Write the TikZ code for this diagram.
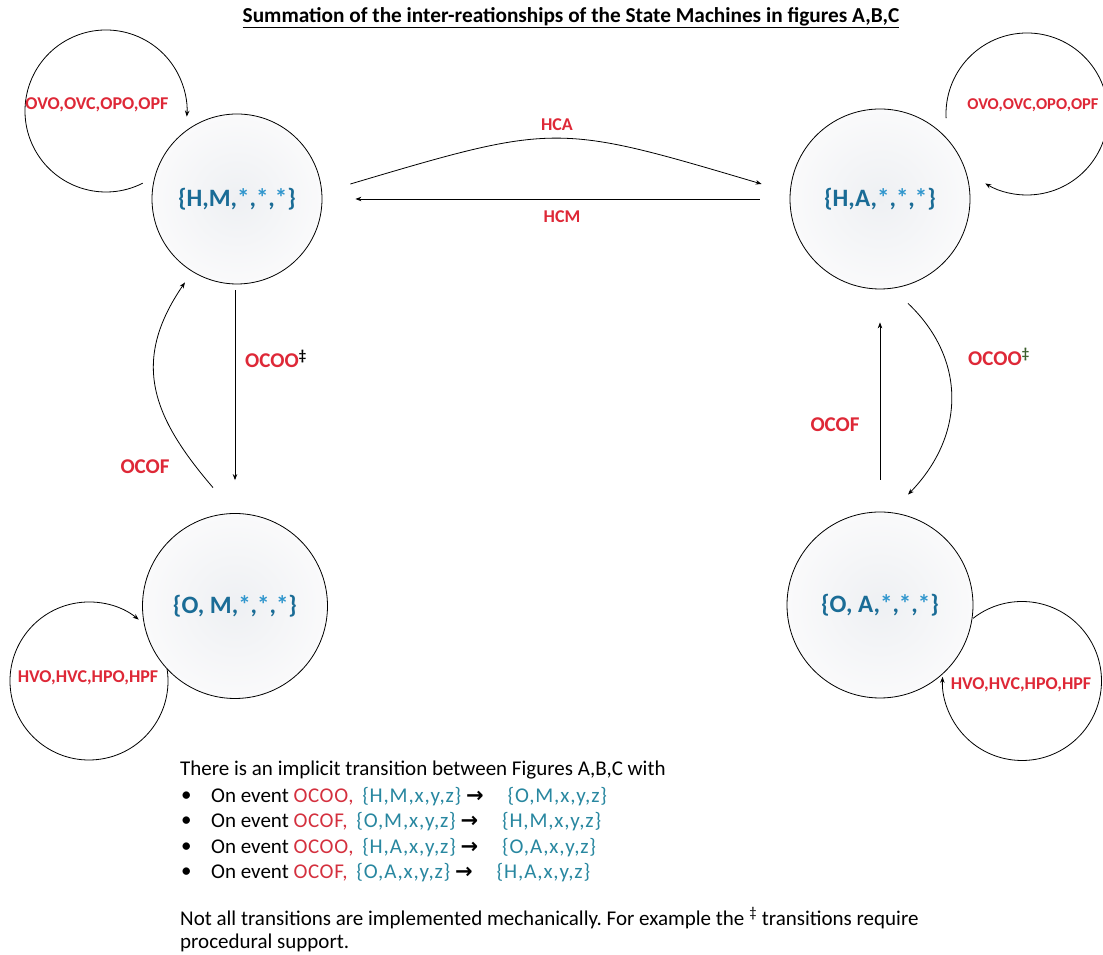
\documentclass[tikz,border=0pt]{standalone}
\usepackage{fontspec}
\setmainfont{Carlito}
\newfontfamily\arrowfont{DejaVu Sans}
\usetikzlibrary{arrows.meta}
\definecolor{lblred}{RGB}{222,40,55}
\definecolor{txtred}{RGB}{212,48,62}
\definecolor{stblue}{RGB}{26,108,150}
\definecolor{stlight}{RGB}{48,150,205}
\definecolor{tealtxt}{RGB}{40,135,160}
\definecolor{dkgreen}{RGB}{60,95,45}
\definecolor{circin}{RGB}{238,240,243}
\definecolor{circout}{RGB}{250,250,251}
\newcommand\stx{\textcolor{stlight}{*}}
\newcommand\setx[1]{\textcolor{tealtxt}{\addfontfeature{LetterSpace=4}#1}}
\newcommand\evx[1]{\textcolor{txtred}{\addfontfeature{LetterSpace=3}#1}}
\frenchspacing
\begin{document}
\begin{tikzpicture}[x=1pt,y=1pt,
  >={Stealth[length=6pt,width=4.5pt]},
  state/.style={circle,draw,line width=0.8pt,shading=radial,inner color=circin,outer color=circout,
    inner sep=0pt,font=\fontsize{25}{29}\selectfont\bfseries,text=stblue},
  lbl/.style={font=\fontsize{18}{21}\selectfont\bfseries,text=lblred,inner sep=0pt},
  lbltwo/.style={font=\fontsize{21}{25}\selectfont\bfseries,text=lblred,inner sep=0pt},
  conn/.style={line width=0.8pt,->},
  body/.style={font=\fontsize{21}{25}\selectfont,anchor=west,inner sep=0pt}]
\useasboundingbox (0,0) rectangle (1103,955);
\fill[white] (0,0) rectangle (1103,955);

% title
\node[font=\fontsize{21.3}{25}\selectfont\bfseries,inner sep=0pt] (title) at (571,937)
  {\underline{Summation of the inter-reationships of the State Machines in figures A,B,C}};

% states
\node[state,minimum size=170pt] (HM) at (237,756) {\{H,M,\stx,\stx,\stx\}};
\node[state,minimum size=180pt] (HA) at (880,756) {\{H,A,\stx,\stx,\stx\}};
\node[state,minimum size=185pt] (OM) at (235,349) {\{O, M,\stx,\stx,\stx\}};
\node[state,minimum size=186pt] (OA) at (880,350) {\{O, A,\stx,\stx,\stx\}};

% self loops
\coordinate (cHM) at (106,844);
\coordinate (cHA) at (1027,841);
\coordinate (cOM) at (89,274);
\coordinate (cOA) at (1022,274);
\draw[conn] ([shift={(-63:81)}]cHM) arc[start angle=-63,end angle=-364,radius=81];
\draw[conn] ([shift={(183:81)}]cHA) arc[start angle=183,end angle=-121,radius=81];
\draw[conn] ([shift={(9:79)}]cOM) arc[start angle=9,end angle=-309,radius=79];
\draw[conn] ([shift={(128:79.5)}]cOA) arc[start angle=128,end angle=-183,radius=79.5];

% connectors between states
\draw[conn] ([shift={(28,15)}]HM.east) .. controls (556,832) .. ([shift={(-28,15)}]HA.west);
\draw[conn] ([xshift=-30]HA.west) -- ([xshift=33]HM.east);
\draw[conn] ([xshift=-2,yshift=-6]HM.south) -- ([yshift=33]OM.north);
\draw[conn] ([shift={(-22,25.5)}]OM.north) .. controls +(-60,70) and +(-55,-80) .. ([shift={(-52,2)}]HM.south);
\draw[conn] ([yshift=32]OA.north) -- ([yshift=-33]HA.south);
\draw[conn] ([shift={(28,-14)}]HA.south) .. controls +(58,-55) and +(58,60) .. ([shift={(28,17)}]OA.north);

% labels
\node[lbl] (lHM) at (97,850) {OVO,OVC,OPO,OPF};
\node[lbl,font=\fontsize{16.5}{20}\selectfont\bfseries] (lHA) at (1033,850) {OVO,OVC,OPO,OPF};
\node[lbl] (lOM) at (88,277) {HVO,HVC,HPO,HPF};
\node[lbl] (lOA) at (1021,270) {HVO,HVC,HPO,HPF};
\node[lbl] (lHCA) at (557,830) {HCA};
\node[lbl] (lHCM) at (562,738) {HCM};
\node[lbltwo,anchor=west] (lOCOOa) at (245,596) {OCOO\textsuperscript{\textcolor{black}{‡}}};
\node[lbltwo,anchor=west] (lOCOOb) at (968,598) {OCOO\textsuperscript{\textcolor{dkgreen}{‡}}};
\node[lbltwo] (lOCOFa) at (145,488) {OCOF};
\node[lbltwo] (lOCOFb) at (835,530) {OCOF};

% explanatory text
\node[body] (t0) at (180,185) {There is an implicit transition between Figures A,B,C with};
\foreach \yy in {158,133,107,82} {\node[body] at (181,\yy) {•};}
\node[body] (r1) at (211,158) {On event \evx{OCOO,}\hspace{4pt} \setx{\{H,M,x,y,z\}} {\arrowfont\bfseries →}\hspace{24pt}\setx{\{O,M,x,y,z\}}};
\node[body] (r2) at (211,133) {On event \evx{OCOF,}\hspace{4pt} \setx{\{O,M,x,y,z\}} {\arrowfont\bfseries →}\hspace{24pt}\setx{\{H,M,x,y,z\}}};
\node[body] (r3) at (211,107) {On event \evx{OCOO,}\hspace{4pt} \setx{\{H,A,x,y,z\}} {\arrowfont\bfseries →}\hspace{24pt}\setx{\{O,A,x,y,z\}}};
\node[body] (r4) at (211,82) {On event \evx{OCOF,}\hspace{4pt} \setx{\{O,A,x,y,z\}} {\arrowfont\bfseries →}\hspace{24pt}\setx{\{H,A,x,y,z\}}};
\node[body] (n1) at (180,37) {Not all transitions are implemented mechanically. For example the \textsuperscript{‡} transitions require};
\node[body] (n2) at (180,12) {procedural support.};
\end{tikzpicture}
\end{document}
